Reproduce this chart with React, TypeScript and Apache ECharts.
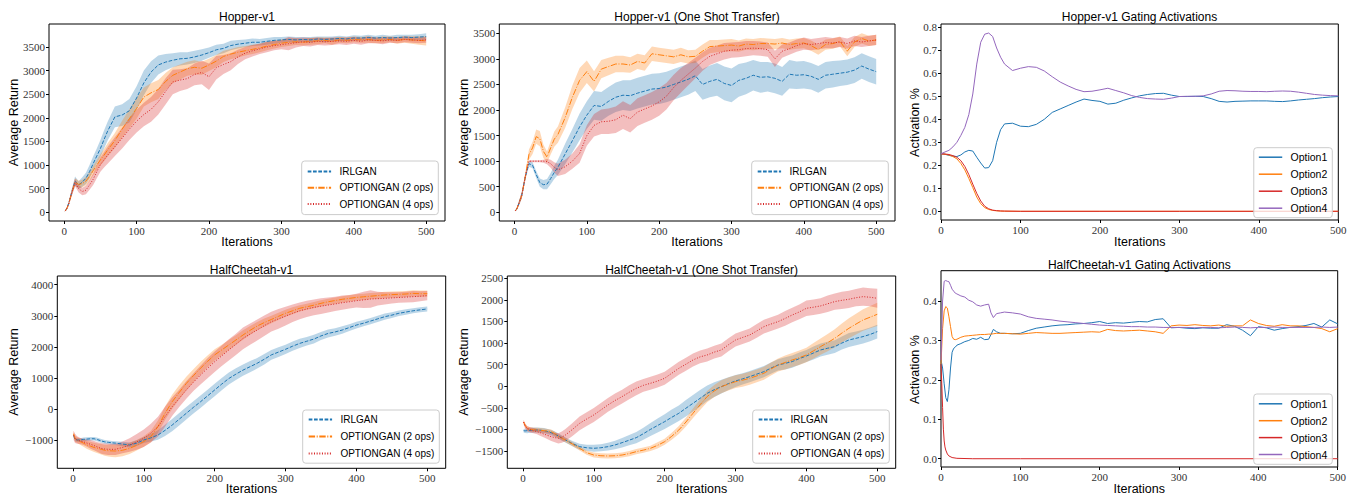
import React, { useEffect, useRef } from 'react';
import * as echarts from 'echarts';

const W = 1347;
const H = 495;

// ---------- shared x positions (iterations) ----------
const X_RET = [1, 3, 6, 10, 15, 20, 25, 30, 35, 40, 45, 50, 55, 60,
  70, 80, 90, 100, 110, 120, 130, 140, 150,
  160, 170, 180, 190, 200, 210, 220, 230, 240, 250,
  260, 270, 280, 290, 300, 310, 320, 330, 340, 350,
  360, 370, 380, 390, 400, 410, 420, 430, 440, 450,
  460, 470, 480, 490, 500];
const X_TICKS = [0, 100, 200, 300, 400, 500];

// ---------- Hopper-v1 ----------
const HOP_IRLGAN = [30, 60, 180, 400, 660, 580, 640, 720, 860, 1030, 1190, 1350, 1540, 1720,
  2020, 2060, 2150, 2420, 2740, 2970, 3120, 3180, 3220,
  3250, 3260, 3290, 3330, 3380, 3440, 3470, 3530, 3560, 3580,
  3600, 3600, 3620, 3640, 3650, 3660, 3650, 3660, 3650, 3670,
  3660, 3670, 3680, 3670, 3690, 3690, 3700, 3690, 3700, 3690,
  3700, 3710, 3700, 3710, 3720];
const HOP_IRLGAN_SD = [10, 20, 40, 60, 100, 80, 100, 120, 140, 150, 160, 180, 190, 200,
  220, 230, 250, 250, 260, 230, 200, 170, 150,
  140, 130, 130, 120, 110, 110, 100, 100, 90, 80,
  80, 70, 70, 70, 60, 60, 60, 50, 60, 50,
  60, 50, 60, 50, 60, 50, 60, 50, 60, 50,
  60, 50, 60, 60, 70];
const HOP_OG2 = [30, 60, 170, 390, 640, 590, 610, 660, 760, 880, 1000, 1110, 1210, 1320,
  1520, 1760, 1980, 2200, 2440, 2530, 2600, 2770, 2900,
  2970, 3040, 3070, 3050, 3120, 3200, 3300, 3350, 3390, 3420,
  3450, 3480, 3520, 3550, 3580, 3600, 3610, 3600, 3620, 3630,
  3640, 3620, 3650, 3640, 3660, 3650, 3660, 3640, 3650, 3660,
  3640, 3660, 3650, 3640, 3630];
const HOP_OG2_SD = [10, 20, 40, 60, 80, 80, 80, 90, 100, 100, 110, 120, 130, 140,
  160, 180, 200, 220, 200, 200, 200, 180, 170,
  160, 150, 150, 140, 130, 130, 120, 110, 110, 100,
  100, 90, 90, 80, 80, 80, 70, 70, 70, 70,
  60, 70, 60, 60, 60, 60, 70, 60, 70, 60,
  70, 70, 80, 90, 100];
const HOP_OG4 = [30, 60, 170, 390, 630, 500, 440, 470, 580, 700, 860, 1010, 1110, 1210,
  1390, 1570, 1760, 1930, 2070, 2180, 2340, 2560, 2760,
  2800, 2830, 2920, 2960, 2870, 3060, 3130, 3190, 3290, 3370,
  3420, 3460, 3500, 3530, 3550, 3570, 3590, 3610, 3600, 3620,
  3610, 3620, 3630, 3620, 3640, 3620, 3650, 3640, 3630, 3650,
  3640, 3660, 3650, 3640, 3650];
const HOP_OG4_SD = [10, 20, 40, 60, 80, 80, 80, 90, 100, 120, 140, 150, 160, 180,
  200, 220, 230, 240, 250, 260, 270, 280, 260,
  230, 220, 230, 250, 280, 250, 200, 180, 150, 130,
  120, 110, 110, 100, 100, 140, 100, 90, 90, 80,
  80, 80, 70, 80, 70, 70, 70, 60, 70, 60,
  60, 60, 60, 60, 60];

// ---------- Hopper-v1 (One Shot Transfer) ----------
const HOPT_IRLGAN = [30, 60, 170, 330, 700, 950, 920, 740, 580, 540, 550, 660, 780, 880,
  1140, 1400, 1670, 1900, 2090, 2070, 2170, 2250, 2290,
  2280, 2330, 2370, 2410, 2420, 2450, 2500, 2550, 2600, 2670,
  2500, 2560, 2600, 2520, 2480, 2580, 2620, 2680, 2640, 2650,
  2620, 2560, 2700, 2680, 2690, 2660, 2600, 2680, 2700, 2720,
  2740, 2780, 2860, 2800, 2750];
const HOPT_IRLGAN_SD = [10, 20, 40, 60, 60, 60, 60, 70, 80, 90, 100, 110, 130, 150,
  200, 230, 260, 270, 280, 280, 280, 290, 290,
  300, 300, 300, 300, 300, 300, 300, 300, 300, 300,
  300, 310, 320, 330, 330, 320, 310, 300, 300, 290,
  290, 280, 280, 270, 270, 260, 260, 260, 260, 250,
  250, 250, 250, 250, 250];
const HOPT_OG2 = [30, 60, 170, 330, 700, 1130, 1260, 1480, 1440, 1190, 1080, 1260, 1430, 1520,
  1850, 2250, 2580, 2750, 2560, 2800, 2850, 2900, 2900,
  2880, 2950, 2920, 3100, 3080, 3060, 3040, 3080, 3040, 3050,
  3150, 3240, 3250, 3260, 3270, 3250, 3290, 3280, 3300, 3300,
  3290, 3310, 3280, 3300, 3310, 3260, 3180, 3280, 3300, 3340,
  3150, 3330, 3400, 3350, 3370];
const HOPT_OG2_SD = [10, 20, 40, 60, 80, 100, 120, 140, 150, 130, 110, 130, 150, 160,
  200, 230, 240, 220, 200, 180, 170, 160, 160,
  150, 150, 150, 140, 140, 140, 140, 140, 130, 130,
  130, 130, 120, 120, 120, 110, 110, 110, 110, 100,
  100, 100, 100, 100, 100, 100, 100, 100, 100, 100,
  100, 100, 100, 100, 100];
const HOPT_OG4 = [30, 60, 170, 330, 700, 1000, 1000, 1000, 1000, 1000, 990, 950, 880, 830,
  890, 1000, 1150, 1500, 1700, 1770, 1780, 1810, 1900,
  1830, 1960, 2020, 2080, 2160, 2270, 2440, 2580, 2700, 2820,
  2950, 3050, 3100, 3150, 3170, 3180, 3200, 3210, 3200, 3180,
  3000, 3150, 3200, 3260, 3300, 3280, 3300, 3320, 3310, 3330,
  3300, 3350, 3330, 3350, 3370];
const HOPT_OG4_SD = [10, 20, 40, 60, 60, 20, 20, 20, 20, 30, 50, 80, 100, 120,
  140, 150, 180, 200, 220, 240, 250, 260, 270,
  270, 270, 270, 270, 270, 260, 250, 240, 220, 200,
  180, 170, 160, 160, 150, 150, 150, 140, 140, 140,
  160, 130, 120, 120, 120, 110, 110, 110, 100, 100,
  100, 100, 100, 100, 100];

// ---------- HalfCheetah-v1 ----------
const HC_IRLGAN = [-850, -980, -1000, -1000, -980, -970, -960, -960, -990, -1030, -1060, -1075, -1090, -1100,
  -1130, -1160, -1100, -1000, -930, -840, -690, -520, -330,
  -140, 50, 230, 420, 610, 800, 980, 1120, 1250, 1360,
  1470, 1600, 1740, 1830, 1920, 2020, 2110, 2180, 2250, 2350,
  2430, 2480, 2540, 2620, 2700, 2760, 2830, 2900, 2970, 3020,
  3080, 3120, 3160, 3190, 3220];
const HC_IRLGAN_SD = [60, 60, 60, 60, 60, 60, 60, 60, 60, 60, 60, 60, 60, 60,
  70, 80, 90, 100, 120, 150, 180, 200, 200,
  200, 200, 200, 200, 200, 200, 190, 190, 180, 180,
  170, 170, 160, 160, 150, 150, 150, 140, 140, 130,
  130, 120, 120, 110, 110, 100, 100, 100, 100, 90,
  90, 90, 80, 80, 80];
const HC_OG2 = [-800, -960, -1000, -1050, -1100, -1160, -1200, -1240, -1270, -1300, -1330, -1345, -1350, -1354,
  -1330, -1270, -1170, -1050, -890, -570, -140, 230, 530,
  820, 1070, 1310, 1530, 1740, 1900, 2060, 2220, 2380, 2530,
  2670, 2780, 2880, 2980, 3080, 3160, 3240, 3290, 3340, 3400,
  3450, 3490, 3530, 3560, 3590, 3610, 3630, 3650, 3670, 3680,
  3690, 3700, 3720, 3710, 3710];
const HC_OG2_SD = [100, 100, 100, 100, 120, 130, 140, 150, 160, 170, 180, 190, 200, 200,
  190, 180, 170, 170, 180, 200, 220, 230, 230,
  220, 210, 200, 190, 180, 170, 160, 150, 150, 140,
  130, 130, 120, 120, 110, 110, 100, 100, 100, 100,
  100, 100, 100, 100, 100, 100, 100, 100, 100, 100,
  100, 100, 100, 100, 100];
const HC_OG4 = [-850, -950, -1000, -1030, -1060, -1100, -1140, -1180, -1230, -1270, -1290, -1300, -1300, -1300,
  -1240, -1160, -1060, -945, -780, -570, -250, 70, 340,
  610, 860, 1090, 1310, 1520, 1710, 1900, 2080, 2270, 2410,
  2540, 2680, 2810, 2900, 2990, 3080, 3160, 3220, 3270, 3310,
  3345, 3380, 3420, 3450, 3485, 3510, 3540, 3550, 3560, 3575,
  3590, 3600, 3615, 3630, 3650];
const HC_OG4_SD = [150, 150, 120, 100, 100, 120, 140, 150, 160, 170, 180, 180, 180, 180,
  190, 220, 250, 280, 300, 320, 320, 300, 280,
  280, 280, 300, 320, 330, 330, 340, 340, 350, 340,
  340, 330, 320, 320, 300, 280, 270, 260, 250, 250,
  240, 230, 230, 220, 220, 260, 280, 220, 200, 180,
  170, 170, 180, 160, 150];

// ---------- HalfCheetah-v1 (One Shot Transfer) ----------
const HCT_IRLGAN = [-1030, -1035, -1030, -1020, -1015, -1014, -1020, -1030, -1050, -1075, -1110, -1150, -1200, -1245,
  -1330, -1400, -1425, -1438, -1425, -1400, -1360, -1307, -1250,
  -1191, -1100, -1000, -910, -820, -720, -627, -510, -396, -280,
  -165, -80, -10, 60, 122, 170, 222, 280, 338, 420,
  492, 530, 570, 640, 700, 770, 840, 880, 917, 1000,
  1071, 1110, 1150, 1200, 1265];
const HCT_IRLGAN_SD = [40, 50, 60, 60, 60, 60, 60, 60, 60, 60, 60, 60, 60, 60,
  60, 70, 70, 80, 80, 90, 100, 110, 120,
  130, 140, 150, 160, 170, 180, 180, 190, 190, 190,
  180, 170, 160, 150, 140, 130, 130, 130, 130, 130,
  130, 140, 140, 140, 140, 150, 150, 150, 150, 150,
  160, 160, 160, 160, 160];
const HCT_OG2 = [-830, -900, -975, -1000, -1010, -1014, -1020, -1030, -1040, -1052, -1100, -1160, -1200, -1245,
  -1340, -1438, -1540, -1593, -1610, -1616, -1610, -1593, -1560,
  -1515, -1480, -1438, -1370, -1284, -1160, -1014, -830, -627, -430,
  -240, -110, -10, 50, 106, 140, 184, 240, 300, 400,
  492, 550, 608, 660, 724, 820, 917, 1010, 1110, 1230,
  1342, 1440, 1535, 1600, 1666];
const HCT_OG2_SD = [40, 40, 50, 50, 50, 50, 50, 50, 50, 50, 50, 50, 50, 50,
  50, 50, 50, 60, 60, 60, 60, 60, 60,
  60, 60, 60, 70, 70, 80, 90, 100, 110, 120,
  130, 140, 150, 150, 150, 150, 150, 150, 150, 150,
  150, 160, 160, 170, 170, 180, 190, 200, 210, 220,
  230, 240, 250, 260, 270];
const HCT_OG4 = [-830, -920, -980, -1010, -1030, -1052, -1080, -1110, -1140, -1168, -1190, -1207, -1180, -1130,
  -1000, -860, -760, -666, -550, -434, -330, -240, -140,
  -48, 20, 68, 120, 184, 300, 415, 510, 608, 680,
  724, 790, 840, 960, 1071, 1130, 1187, 1280, 1380, 1440,
  1496, 1570, 1650, 1720, 1805, 1830, 1860, 1910, 1960, 1990,
  2014, 2050, 2075, 2060, 2037];
const HCT_OG4_SD = [50, 60, 60, 60, 60, 60, 70, 80, 90, 100, 110, 120, 130, 140,
  150, 160, 160, 160, 160, 160, 160, 160, 160,
  160, 150, 150, 150, 150, 150, 150, 150, 150, 150,
  150, 150, 150, 150, 150, 150, 150, 160, 160, 160,
  160, 170, 170, 170, 180, 180, 180, 190, 190, 200,
  200, 200, 210, 210, 220];

// ---------- Hopper-v1 Gating Activations ----------
const HOP_GATE_X = [0, 5, 10, 15, 20, 25, 30, 35, 40, 45, 50, 55, 60, 65, 70, 75, 80,
  90, 100, 110, 120, 130, 140, 150, 160, 170, 180,
  190, 200, 210, 220, 230, 240, 250, 260, 270, 280,
  290, 300, 310, 320, 330, 340, 350, 360, 370, 380,
  390, 400, 410, 420, 430, 440, 450, 460, 470, 480,
  490, 500];
const HOP_OPT1 = [0.25, 0.248, 0.243, 0.24, 0.238, 0.245, 0.258, 0.265, 0.262, 0.235, 0.21, 0.188, 0.19, 0.22, 0.3, 0.355, 0.38,
  0.383, 0.37, 0.368, 0.378, 0.4, 0.43, 0.445, 0.46, 0.475, 0.488,
  0.482, 0.478, 0.466, 0.47, 0.483, 0.493, 0.502, 0.508, 0.512, 0.513,
  0.505, 0.499, 0.499, 0.5, 0.499, 0.49, 0.478, 0.475, 0.478, 0.479,
  0.48, 0.48, 0.48, 0.478, 0.477, 0.48, 0.484, 0.487, 0.49, 0.494,
  0.497, 0.499];
const HOP_OPT4 = [0.25, 0.258, 0.265, 0.28, 0.3, 0.33, 0.365, 0.42, 0.51, 0.64, 0.735, 0.77, 0.775, 0.76, 0.71, 0.67, 0.64,
  0.612, 0.622, 0.629, 0.626, 0.61, 0.585, 0.562, 0.545, 0.53, 0.52,
  0.522, 0.528, 0.535, 0.525, 0.515, 0.503, 0.495, 0.49, 0.488, 0.487,
  0.492, 0.499, 0.5, 0.5, 0.502, 0.51, 0.522, 0.525, 0.524, 0.522,
  0.521, 0.521, 0.52, 0.522, 0.523, 0.522, 0.518, 0.513, 0.508, 0.505,
  0.503, 0.502];
const HOP_OPT23_X = [0, 5, 10, 15, 20, 25, 30, 35, 40, 45, 50, 55, 60, 65, 70, 75, 80, 100, 200, 300, 400, 500];
const HOP_OPT2 = [0.25, 0.248, 0.245, 0.238, 0.228, 0.208, 0.18, 0.143, 0.103, 0.062, 0.033, 0.016, 0.008, 0.004, 0.002, 0.001, 0.0005, 0, 0, 0, 0, 0];
const HOP_OPT3 = [0.25, 0.249, 0.247, 0.242, 0.235, 0.22, 0.195, 0.16, 0.118, 0.078, 0.045, 0.022, 0.011, 0.005, 0.003, 0.0015, 0.001, 0, 0, 0, 0, 0];

// ---------- HalfCheetah-v1 Gating Activations ----------
const HC_GATE_X = [0, 2, 4, 6, 8, 10, 12, 14, 16, 18, 20,
  25, 30, 35, 40, 45, 50, 55, 60,
  63, 66, 70, 75, 80,
  90, 100, 110, 120, 130, 140, 150, 160, 170, 180,
  190, 200, 210, 220, 230, 240, 250, 260, 270, 280,
  290, 300, 310, 320, 330, 340, 350, 360, 370, 380,
  390, 400, 410, 420, 430, 440, 450, 460, 470, 480,
  490, 500];
const HC_OPT1 = [0.25, 0.23, 0.19, 0.155, 0.145, 0.175, 0.23, 0.27, 0.28, 0.283, 0.288,
  0.292, 0.297, 0.3, 0.305, 0.303, 0.308, 0.302, 0.303,
  0.315, 0.328, 0.322, 0.318, 0.318,
  0.317, 0.318, 0.325, 0.331, 0.334, 0.337, 0.339, 0.34, 0.342, 0.343,
  0.345, 0.348, 0.343, 0.345, 0.344, 0.346, 0.348, 0.347, 0.353, 0.355,
  0.332, 0.333, 0.331, 0.33, 0.332, 0.331, 0.331, 0.34, 0.336, 0.326,
  0.312, 0.335, 0.332, 0.326, 0.33, 0.333, 0.335, 0.338, 0.343, 0.334,
  0.352, 0.342];
const HC_OPT2 = [0.24, 0.33, 0.375, 0.386, 0.382, 0.36, 0.335, 0.31, 0.303, 0.302, 0.303,
  0.308, 0.311, 0.312, 0.313, 0.314, 0.315, 0.315, 0.316,
  0.316, 0.317, 0.318, 0.318, 0.318,
  0.317, 0.316, 0.318, 0.32, 0.319, 0.318, 0.318, 0.319, 0.32, 0.321,
  0.322, 0.321, 0.328, 0.325, 0.324, 0.325, 0.326, 0.324, 0.322, 0.318,
  0.337, 0.339, 0.338, 0.34, 0.338, 0.337, 0.339, 0.336, 0.337, 0.337,
  0.352, 0.343, 0.338, 0.336, 0.34, 0.337, 0.337, 0.335, 0.333, 0.33,
  0.322, 0.33];
const HC_OPT4 = [0.25, 0.4, 0.45, 0.452, 0.45, 0.449, 0.44, 0.43, 0.425, 0.42, 0.418,
  0.413, 0.41, 0.402, 0.398, 0.39, 0.387, 0.39, 0.392,
  0.37, 0.358, 0.368, 0.37, 0.372,
  0.37, 0.367, 0.36, 0.356, 0.354, 0.352, 0.349, 0.347, 0.345, 0.343,
  0.341, 0.339, 0.338, 0.337, 0.336, 0.335, 0.335, 0.334, 0.334, 0.333,
  0.333, 0.333, 0.333, 0.332, 0.333, 0.333, 0.332, 0.333, 0.334, 0.333,
  0.332, 0.333, 0.333, 0.334, 0.333, 0.333, 0.333, 0.333, 0.333, 0.334,
  0.333, 0.334];
const HC_OPT3_X = [0, 1, 2, 3, 4, 5, 6, 8, 10, 14, 20, 40, 100, 500];
const HC_OPT3 = [0.24, 0.19, 0.13, 0.075, 0.045, 0.03, 0.022, 0.012, 0.007, 0.003, 0.001, 0, 0, 0];

// ---------- tick labels ----------
const HOP_Y_TICKS = [0, 500, 1000, 1500, 2000, 2500, 3000, 3500];
const HC_Y_TICKS = [-1000, 0, 1000, 2000, 3000, 4000];
const HCT_Y_TICKS = [-1500, -1000, -500, 0, 500, 1000, 1500, 2000, 2500];
const HOP_GATE_Y_TICKS = [0, 0.1, 0.2, 0.3, 0.4, 0.5, 0.6, 0.7, 0.8];
const HC_GATE_Y_TICKS = [0, 0.1, 0.2, 0.3, 0.4];

const METHODS = ['IRLGAN', 'OPTIONGAN (2 ops)', 'OPTIONGAN (4 ops)'];
const OPTIONS = ['Option1', 'Option2', 'Option3', 'Option4'];
const TITLES = ['Hopper-v1', 'Hopper-v1 (One Shot Transfer)', 'Hopper-v1 Gating Activations',
  'HalfCheetah-v1', 'HalfCheetah-v1 (One Shot Transfer)', 'HalfCheetah-v1 Gating Activations'];

// ---------- styling / layout ----------
const BLUE = '#1f77b4';
const ORANGE = '#ff7f0e';
const RED = '#d62728';
const PURPLE = '#9467bd';
const SANS = '"Liberation Sans", Arial, sans-serif';
const SERIF = '"Liberation Serif", "DejaVu Serif", serif';

const LAYOUT = [
  { left: 49, top: 24, width: 396, height: 197, xMin: -21, xMax: 526, yMin: -184, yMax: 3987, yTicks: HOP_Y_TICKS, dec: 0,
    title: [247, 17.2], xName: [247, 242.3], yName: [14.2, 122.5, 'Average Return'],
    legend: { right: 908.7, top: 161, gap: 6.3, pad: [5.5, 5, 5.5, 5], fs: 10 } },
  { left: 499.3, top: 24, width: 395.7, height: 197, xMin: -21, xMax: 526, yMin: -170, yMax: 3682, yTicks: HOP_Y_TICKS, dec: 0,
    title: [697, 17.2], xName: [697, 242.3], yName: [464.2, 122.5, 'Average Return'],
    legend: { right: 458.7, top: 161, gap: 6.3, pad: [5.5, 5, 5.5, 5], fs: 10 } },
  { left: 941, top: 24, width: 397.3, height: 196, xMin: 0, xMax: 500, yMin: -0.0378, yMax: 0.8143, yTicks: HOP_GATE_Y_TICKS, dec: 1,
    title: [1139.5, 16.5], xName: [1139.7, 242.3], yName: [915.3, 122.5, 'Activation %'],
    legend: { right: 14.7, top: 147.7, gap: 6, pad: [4, 5, 4, 4.3], fs: 10.5 } },
  { left: 57.3, top: 276, width: 388.4, height: 192.3, xMin: -22, xMax: 526, yMin: -1911, yMax: 4280, yTicks: HC_Y_TICKS, dec: 0,
    title: [251.5, 269.7], xName: [251.5, 489.3], yName: [14.2, 372, 'Average Return'],
    legend: { right: 907.7, top: 410, gap: 7, pad: [4.6, 5, 4.6, 5], fs: 10 } },
  { left: 507.3, top: 276, width: 388.4, height: 192.3, xMin: -22, xMax: 526, yMin: -1901, yMax: 2553, yTicks: HCT_Y_TICKS, dec: 0,
    title: [701.5, 270], xName: [701.5, 489.3], yName: [464.2, 372, 'Average Return'],
    legend: { right: 457.7, top: 410, gap: 7, pad: [4.6, 5, 4.6, 5], fs: 10 } },
  { left: 941, top: 270.7, width: 396.7, height: 196.3, xMin: 0, xMax: 500, yMin: -0.021, yMax: 0.4769, yTicks: HC_GATE_Y_TICKS, dec: 1,
    title: [1139.3, 264.5], xName: [1139.3, 489.3], yName: [915.3, 369.5, 'Activation %'],
    legend: { right: 14.7, top: 394, gap: 5.9, pad: [4.3, 5, 4.3, 4.3], fs: 10.5 } },
];

const pts = (xs: number[], ys: number[]) => xs.map((x, i) => [x, ys[i]]);

function bandSeries(gi: number, xs: number[], m: number[], sd: number[], color: string) {
  return {
    type: 'custom', name: 'band', xAxisIndex: gi, yAxisIndex: gi, silent: true, z: 2,
    data: xs.map((x, i) => [x, m[i] - sd[i], m[i] + sd[i]]),
    encode: { x: 0, y: [1, 2] },
    renderItem: (params: any, api: any) => {
      if (params.dataIndex !== 0) return null;
      const upper = xs.map((x, i) => api.coord([x, m[i] + sd[i]]));
      const lower = xs.map((x, i) => api.coord([x, m[i] - sd[i]])).reverse();
      return {
        type: 'polygon', silent: true,
        shape: { points: upper.concat(lower) },
        style: { fill: color, opacity: 0.3, stroke: 'none' },
      };
    },
  };
}

function returnSeries(gi: number, means: number[][], sds: number[][]) {
  const colors = [BLUE, ORANGE, RED];
  const dashes: any[] = [[3.7, 1.6], [6.4, 1.6, 1, 1.6], [1, 1.65]];
  const out: any[] = [];
  means.forEach((m, k) => {
    out.push(bandSeries(gi, X_RET, m, sds[k], colors[k]));
    out.push({
      type: 'line', name: METHODS[k], xAxisIndex: gi, yAxisIndex: gi, symbol: 'none', silent: true,
      lineStyle: { color: colors[k], width: 1, type: dashes[k] },
      itemStyle: { color: colors[k] }, data: pts(X_RET, m), z: 3,
    });
  });
  return out;
}

function gateSeries(gi: number, lines: [number[], number[]][]) {
  const colors = [BLUE, ORANGE, RED, PURPLE];
  return lines.map(([xs, ys], k) => ({
    type: 'line', name: OPTIONS[k], xAxisIndex: gi, yAxisIndex: gi, symbol: 'none', silent: true,
    lineStyle: { color: colors[k], width: 1 }, itemStyle: { color: colors[k] }, data: pts(xs, ys), z: 3,
  }));
}

function buildOption() {
  const grid = LAYOUT.map((L) => ({
    left: L.left, top: L.top, width: L.width, height: L.height, show: true,
    borderColor: '#000', borderWidth: 1, backgroundColor: 'transparent', containLabel: false, outerBoundsMode: 'none',
  }));
  const xAxis = LAYOUT.map((L, i) => ({
    type: 'value', gridIndex: i, min: L.xMin, max: L.xMax,
    axisLine: { show: false, onZero: false }, splitLine: { show: false },
    axisTick: { show: true, inside: false, length: 3, lineStyle: { color: '#000', width: 1 }, customValues: X_TICKS },
    axisLabel: { show: true, customValues: X_TICKS, margin: 4, fontFamily: SERIF, fontSize: 11, color: '#333' },
  }));
  const yAxis = LAYOUT.map((L, i) => ({
    type: 'value', gridIndex: i, min: L.yMin, max: L.yMax,
    axisLine: { show: false, onZero: false }, splitLine: { show: false },
    axisTick: { show: true, inside: false, length: 3, lineStyle: { color: '#000', width: 1 }, customValues: L.yTicks },
    axisLabel: {
      show: true, customValues: L.yTicks, margin: 4, fontFamily: SERIF, fontSize: 11, color: '#333',
      formatter: (v: number) => (L.dec ? v.toFixed(L.dec) : String(Math.round(v))).replace('-', '\u2212'),
    },
  }));

  const series = [
    ...returnSeries(0, [HOP_IRLGAN, HOP_OG2, HOP_OG4], [HOP_IRLGAN_SD, HOP_OG2_SD, HOP_OG4_SD]),
    ...returnSeries(1, [HOPT_IRLGAN, HOPT_OG2, HOPT_OG4], [HOPT_IRLGAN_SD, HOPT_OG2_SD, HOPT_OG4_SD]),
    ...gateSeries(2, [[HOP_GATE_X, HOP_OPT1], [HOP_OPT23_X, HOP_OPT2], [HOP_OPT23_X, HOP_OPT3], [HOP_GATE_X, HOP_OPT4]]),
    ...returnSeries(3, [HC_IRLGAN, HC_OG2, HC_OG4], [HC_IRLGAN_SD, HC_OG2_SD, HC_OG4_SD]),
    ...returnSeries(4, [HCT_IRLGAN, HCT_OG2, HCT_OG4], [HCT_IRLGAN_SD, HCT_OG2_SD, HCT_OG4_SD]),
    ...gateSeries(5, [[HC_GATE_X, HC_OPT1], [HC_GATE_X, HC_OPT2], [HC_OPT3_X, HC_OPT3], [HC_GATE_X, HC_OPT4]]),
  ];

  const legend = LAYOUT.map((L, i) => {
    const gate = i === 2 || i === 5;
    return {
      show: true, orient: 'vertical', right: L.legend.right, top: L.legend.top,
      data: gate ? OPTIONS : METHODS, selectedMode: false,
      itemWidth: 23.4, itemHeight: 10, itemGap: L.legend.gap, padding: L.legend.pad,
      textStyle: { fontFamily: SANS, fontSize: L.legend.fs, color: '#000', padding: [0, 0, 0, 3.3] },
      backgroundColor: 'rgba(255,255,255,0.8)', borderColor: '#cccccc', borderWidth: 1, borderRadius: 3,
      itemStyle: { opacity: 0, color: 'rgba(0,0,0,0)', borderWidth: 0 },
      lineStyle: gate ? { width: 1.5 } : {},
    };
  });

  const graphic: any[] = [];
  LAYOUT.forEach((L, i) => {
    graphic.push({ type: 'text', x: L.title[0], y: L.title[1], silent: true,
      style: { text: TITLES[i], textAlign: 'center', textVerticalAlign: 'middle', font: '12px ' + SANS, fill: '#000' } });
    graphic.push({ type: 'text', x: L.xName[0], y: L.xName[1], silent: true,
      style: { text: 'Iterations', textAlign: 'center', textVerticalAlign: 'middle', font: '12.5px ' + SANS, fill: '#000' } });
    graphic.push({ type: 'text', x: L.yName[0] as number, y: L.yName[1] as number, rotation: Math.PI / 2, silent: true,
      style: { text: L.yName[2] as string, textAlign: 'center', textVerticalAlign: 'middle', font: '12.5px ' + SANS, fill: '#000' } });
  });

  return { animation: false, backgroundColor: '#fff', grid, xAxis, yAxis, series, legend, graphic };
}

export default function App() {
  const ref = useRef<HTMLDivElement>(null);
  useEffect(() => {
    if (!ref.current) return;
    const chart = echarts.init(ref.current, null, { renderer: 'svg', width: W, height: H });
    chart.setOption(buildOption() as any);
    return () => chart.dispose();
  }, []);
  return <div ref={ref} style={{ position: 'absolute', left: 0, top: 0, width: W, height: H, background: '#fff' }} />;
}
